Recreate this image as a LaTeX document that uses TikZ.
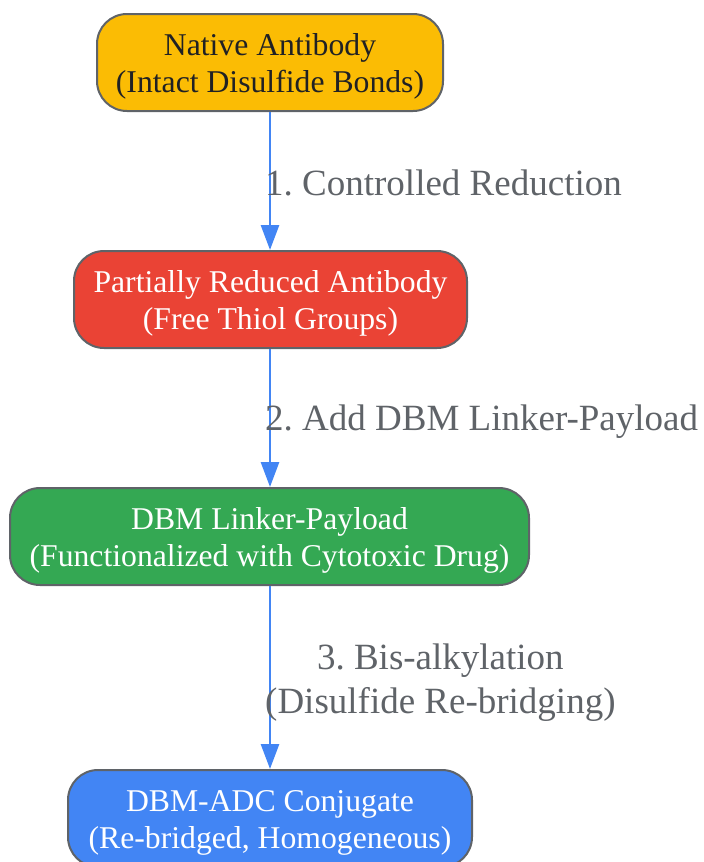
\documentclass[tikz,border=0pt]{standalone}
\usepackage{fontspec}
\setmainfont{Liberation Serif}
\usetikzlibrary{arrows.meta}
\definecolor{gyellow}{HTML}{FBBC04}
\definecolor{gred}{HTML}{EA4335}
\definecolor{ggreen}{HTML}{34A853}
\definecolor{gblue}{HTML}{4285F4}
\definecolor{ggray}{HTML}{5F6368}
\definecolor{gdark}{HTML}{202124}
\frenchspacing
\newcommand{\toppad}{\rule{0pt}{30.5pt}}
\begin{document}
\begin{tikzpicture}[x=1pt,y=-1pt,%
% common options for the boxes:
stage/.style = {draw=ggray, line width=2pt, rounded corners=30pt, align=center,
            minimum height=97pt, inner sep=0, text=white,
            font=\fontsize{31.7}{37}\selectfont},
% common options for the step labels:
steplabel/.style = {anchor=base west, align=center, inner sep=0, text=ggray,
            font=\fontsize{37}{44}\selectfont},
flow/.style = {draw=gblue, line width=2.8pt, -{Triangle[width=18pt,length=25pt]}}]
\useasboundingbox (0,0) rectangle (704,862);
\node[stage, minimum width=346pt, fill=gyellow, text=gdark] (S1) at (270,62.5) {\toppad Native Antibody\\(Intact Disulfide Bonds)};
\node[stage, minimum width=393pt, fill=gred] (S2) at (270.5,299.5) {\toppad Partially Reduced Antibody\\(Free Thiol Groups)};
\node[stage, minimum width=519pt, fill=ggreen] (S3) at (269.5,536.5) {\toppad DBM Linker-Payload\\(Functionalized with Cytotoxic Drug)};
\node[stage, minimum width=404pt, fill=gblue] (S4) at (270,818.5) {\toppad DBM-ADC Conjugate\\(Re-bridged, Homogeneous)};
\draw[flow] (S1.south -| 270,0) to (S2.north -| 270,0);
\draw[flow] (S2.south -| 270,0) to (S3.north -| 270,0);
\draw[flow] (S3.south -| 270,0) to (S4.north -| 270,0);
\node[steplabel] (L1) at (265,195) {1. Controlled Reduction};
\node[steplabel] (L2) at (265,430) {2. Add DBM Linker-Payload};
\node[steplabel, anchor=west] (L3) at (265,683) {3. Bis-alkylation\\(Disulfide Re-bridging)};
\end{tikzpicture}
\end{document}
